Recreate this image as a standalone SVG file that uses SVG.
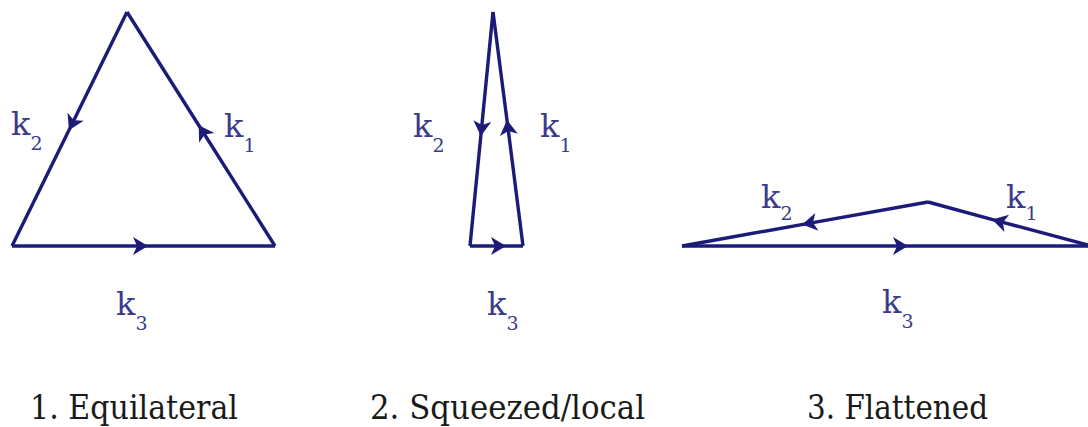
<svg xmlns="http://www.w3.org/2000/svg" width="1088" height="427" viewBox="0 0 1088 427">
<style>
.edge{fill:none;stroke:#1c1c78;stroke-width:3.4;stroke-linejoin:miter;marker-mid:url(#ah)}
.lbl{font-family:'DejaVu Serif',serif;font-size:32px;fill:#3b3b8a}
.sub{font-size:19px}
.cap{font-family:'DejaVu Serif',serif;font-size:33px;fill:#1a1a1a}
</style>
<defs>
<marker id="ah" markerUnits="userSpaceOnUse" markerWidth="26" markerHeight="26" viewBox="-13 -13 26 26" refX="0" refY="0" orient="auto">
<path d="M-7,-9 L8,0 L-7,9 L-3,0 Z" fill="#1c1c78"/>
</marker>
</defs>
<rect width="1088" height="427" fill="#ffffff"/>
<g id="connectors">
<path class="edge" d="M12,246 L140,246 L275,246"/>
<path class="edge" d="M275,246 L203,132 L127,12"/>
<path class="edge" d="M127,12 L72.5,123 L12,246"/>
<path class="edge" d="M470,246 L498,246 L523,246"/>
<path class="edge" d="M523,246 L508,128 L493,12"/>
<path class="edge" d="M493,12 L481.6,128 L470,246"/>
<path class="edge" d="M682,246 L900,246 L1092,246"/>
<path class="edge" d="M1092,246 L1000,221.6 L928,202"/>
<path class="edge" d="M928,202 L810,223.1 L682,246"/>
</g>
<g id="triangle1">
<text class="lbl" x="11" y="135">k<tspan class="sub" dy="15">2</tspan></text>
<text class="lbl" x="224" y="137">k<tspan class="sub" dy="15">1</tspan></text>
<text class="lbl" x="116" y="315">k<tspan class="sub" dy="15">3</tspan></text>
<text class="cap" x="30" y="419" textLength="208" lengthAdjust="spacingAndGlyphs">1. Equilateral</text>
</g>
<g id="triangle2">
<text class="lbl" x="413" y="137">k<tspan class="sub" dy="15">2</tspan></text>
<text class="lbl" x="540" y="137">k<tspan class="sub" dy="15">1</tspan></text>
<text class="lbl" x="487" y="315">k<tspan class="sub" dy="15">3</tspan></text>
<text class="cap" x="370" y="419" textLength="275" lengthAdjust="spacingAndGlyphs">2. Squeezed/local</text>
</g>
<g id="triangle3">
<text class="lbl" x="761" y="208">k<tspan class="sub" dy="12">2</tspan></text>
<text class="lbl" x="1006" y="208">k<tspan class="sub" dy="12">1</tspan></text>
<text class="lbl" x="882" y="313">k<tspan class="sub" dy="15">3</tspan></text>
<text class="cap" x="807" y="419" textLength="181" lengthAdjust="spacingAndGlyphs">3. Flattened</text>
</g>
</svg>
